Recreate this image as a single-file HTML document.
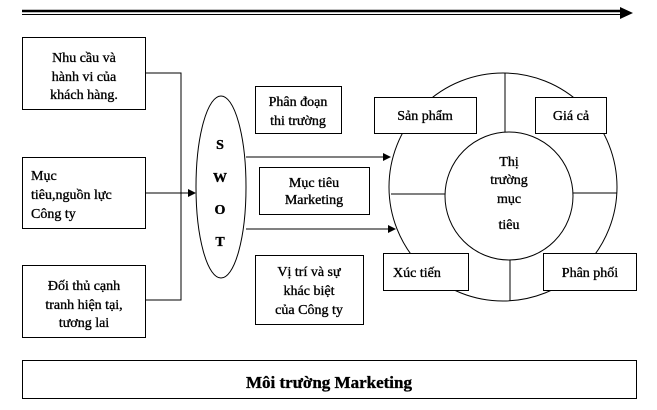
<!DOCTYPE html>
<html><head><meta charset="utf-8"><style>
body{margin:0;background:#fff;}
svg text{font-family:"Liberation Serif",serif;font-size:14px;fill:#000;stroke:#000;stroke-width:0.35;}
</style></head><body>
<svg width="657" height="405" viewBox="0 0 657 405" xmlns="http://www.w3.org/2000/svg">
<defs><marker id="a" markerWidth="8" markerHeight="8" refX="7" refY="4" orient="auto" markerUnits="userSpaceOnUse"><path d="M0,0 L8,4 L0,8Z" fill="#000"/></marker></defs>
<g stroke="#000" fill="none">
<line x1="22" y1="11" x2="622" y2="11" stroke-width="2.5"/>
<line x1="22" y1="14.5" x2="622" y2="14.5" stroke-width="1"/>
<path d="M620,7 L633,13 L620,19Z" fill="#000" stroke="none"/>
<rect x="22.5" y="37.5" width="123" height="72"/>
<rect x="22.5" y="157.5" width="123" height="71"/>
<rect x="22.5" y="265.5" width="123" height="72"/>
<polyline points="145,73 181,73 181,300 145,300"/>
<line x1="145" y1="193" x2="195" y2="193" marker-end="url(#a)"/>
<ellipse cx="221" cy="187" rx="25" ry="91"/>
<rect x="255.5" y="86.5" width="86" height="47"/>
<rect x="259.5" y="167.5" width="110" height="47"/>
<rect x="255.5" y="255.5" width="108" height="69"/>
<line x1="246" y1="157" x2="390" y2="157" marker-end="url(#a)"/>
<line x1="246" y1="229" x2="395" y2="229" marker-end="url(#a)"/>
<circle cx="503" cy="187" r="114"/>
<circle cx="509" cy="196" r="64"/>
<line x1="505" y1="73" x2="505" y2="132"/>
<line x1="510" y1="260" x2="510" y2="301"/>
<line x1="391" y1="194" x2="445" y2="194"/>
<line x1="573" y1="193" x2="617" y2="193"/>
<rect x="374.5" y="97.5" width="102" height="36" fill="#fff"/>
<rect x="535.5" y="97.5" width="71" height="36" fill="#fff"/>
<rect x="383.5" y="253.5" width="85" height="37" fill="#fff"/>
<rect x="543.5" y="253.5" width="93" height="37" fill="#fff"/>
<rect x="22.5" y="360.5" width="614" height="38"/>
</g>
<g text-anchor="middle">
<text x="84" y="62">Nhu cầu và</text>
<text x="84" y="81">hành vi của</text>
<text x="84" y="99">khách hàng.</text>
<text x="84" y="290">Đối thủ cạnh</text>
<text x="84" y="309">tranh hiện tại,</text>
<text x="84" y="327">tương lai</text>
<text x="298" y="106">Phân đoạn</text>
<text x="298" y="125">thi trường</text>
<text x="314" y="187">Mục tiêu</text>
<text x="314" y="204">Marketing</text>
<text x="309" y="276">Vị trí và sự</text>
<text x="309" y="295">khác biệt</text>
<text x="309" y="314">của Công ty</text>
<text x="425" y="120">Sản phẩm</text>
<text x="571" y="120">Giá cả</text>
<text x="590" y="277">Phân phối</text>
<text x="509" y="166">Thị</text>
<text x="509" y="184">trường</text>
<text x="509" y="203">mục</text>
<text x="509" y="229">tiêu</text>
<g style="font-weight:bold;font-size:16px"><text x="220" y="149">S</text><text x="220" y="182">W</text><text x="220" y="214">O</text><text x="220" y="246">T</text></g>
<text x="329" y="388" style="font-weight:bold;font-size:17px">Môi trường Marketing</text>
</g>
<text x="31" y="180">Mục</text>
<text x="31" y="199">tiêu,nguồn lực</text>
<text x="31" y="218">Công ty</text>
<text x="393" y="277">Xúc tiến</text>
</svg>
</body></html>
